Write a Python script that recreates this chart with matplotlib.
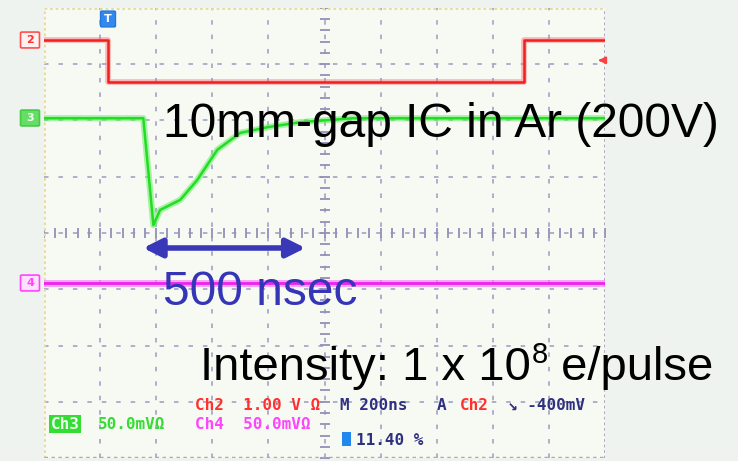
import numpy as np
import matplotlib.pyplot as plt
from matplotlib.patches import FancyBboxPatch, Rectangle

# 波形数据（单位：格，x 0..10，y -4..4）
ch2_t = [0.0, 1.14, 1.14, 8.55, 8.55, 10.0]
ch2_v = [3.43, 3.43, 2.68, 2.68, 3.43, 3.43]

ch3_t = [0.0, 1.77, 1.95, 2.07, 2.43, 2.73, 3.09, 3.50, 3.98, 4.57, 5.5, 10.0]
ch3_v = [2.04, 2.04, 0.14, 0.41, 0.59, 0.94, 1.48, 1.78, 1.88, 1.97, 2.04, 2.04]

ch4_t = [0.0, 10.0]
ch4_v = [-0.89, -0.89]

W, H = 738, 461
fig = plt.figure(figsize=(W / 100, H / 100), dpi=100)
fig.patch.set_facecolor('#eef3ef')

def fx(px):
    return px / W

def fy(py):
    return 1 - py / H

ax = fig.add_axes([fx(44), fy(458), fx(605) - fx(44), fy(8) - fy(458)])
ax.set_facecolor('#f7faf3')
ax.set_xlim(0, 10)
ax.set_ylim(-4, 4)
ax.set_xticks([])
ax.set_yticks([])
for s in ax.spines.values():
    s.set_visible(False)

grid_c = '#a9a9c9'
# 网格
for x in range(1, 10):
    ax.axvline(x, color=grid_c, lw=1.3, ls=(0, (2.5, 5.5)), zorder=1)
for y in range(-3, 4):
    ax.axhline(y, color=grid_c, lw=1.3, ls=(0, (2.5, 5.5)), zorder=1)
# 中心刻度
ticks = np.arange(0, 10.01, 0.2)
ax.plot(ticks, np.zeros_like(ticks), '|', color='#9090b8', ms=7, mew=1.3, zorder=1)
ticks_y = np.arange(-4, 4.01, 0.2)
ax.plot(np.full_like(ticks_y, 5), ticks_y, '_', color='#9090b8', ms=7, mew=1.3, zorder=1)
# 边框
ax.plot([0, 0], [-4, 4], color='#e6dca0', lw=2, ls=(0, (1, 1)), zorder=1)
ax.plot([0, 10], [4, 4], color='#e6dca0', lw=2, ls=(0, (1, 1)), zorder=1)
ax.plot([10, 10], [-4, 4], color='#a8a0b8', lw=2, ls=(0, (1, 1)), zorder=1)
ax.plot([0, 10], [-4, -4], color='#b8a8a0', lw=2.5, ls=(0, (1, 1)), zorder=1)

# 波形
ax.plot(ch2_t, ch2_v, color='#ff7070', lw=4, alpha=0.5, zorder=3)
ax.plot(ch2_t, ch2_v, color='#ee2020', lw=1.8, zorder=3)
ax.plot(ch3_t, ch3_v, color='#70ee70', lw=4.5, alpha=0.6, zorder=3)
ax.plot(ch3_t, ch3_v, color='#22dd22', lw=1.8, zorder=3)
ax.plot(ch4_t, ch4_v, color='#ff66ff', lw=5, alpha=0.6, zorder=3)
ax.plot(ch4_t, ch4_v, color='#ee22ee', lw=2, zorder=3)

# 触发电平标记
ax.annotate('', xy=(9.83, 3.07), xytext=(10.0, 3.07),
            arrowprops=dict(arrowstyle='-|>', color='#ff4040', lw=1.5))

# 通道标记
def tag(py, label, fc, ec, tc):
    fig.patches.append(FancyBboxPatch((fx(22), fy(py + 7)), fx(16), fy(py - 7) - fy(py + 7),
                                      boxstyle='round,pad=0.002', fc=fc, ec=ec, lw=1.2,
                                      transform=fig.transFigure))
    fig.text(fx(30), fy(py), label, color=tc, fontsize=8, fontweight='bold',
             ha='center', va='center')

tag(40, '2', '#fff0f0', '#ff5050', '#ff3030')
tag(118, '3', '#66dd66', '#44cc44', '#eeffee')
tag(283, '4', '#ffe0ff', '#ff44ff', '#ff44ff')

# 触发位置标记
fig.patches.append(FancyBboxPatch((fx(102), fy(26)), fx(12), fy(12) - fy(26),
                                  boxstyle='round,pad=0.002', fc='#3388ee', ec='#2277dd',
                                  transform=fig.transFigure))
fig.text(fx(108), fy(19), 'T', color='white', fontsize=8, fontweight='bold',
         ha='center', va='center')

# 注释文字
big = dict(family='Liberation Sans', va='baseline', zorder=5)
fig.text(fx(163), fy(137), '10mm-gap IC in Ar (200V)', fontsize=34.5, color='black', **big)
fig.text(fx(163), fy(305), '500 nsec', fontsize=34.5, color='#3535b8', **big)

# Intensity 文字，上标分段绘制
renderer = fig.canvas.get_renderer()
t1 = fig.text(fx(200), fy(380), 'Intensity: 1 x 10', fontsize=34, color='black', **big)
x1 = t1.get_window_extent(renderer).x1
t2 = fig.text((x1 + 1) / W, fy(363), '8', fontsize=21, color='black', **big)
x2 = t2.get_window_extent(renderer).x1
fig.text((x2 + 0) / W, fy(380), ' e/pulse', fontsize=34, color='black', **big)

ax.annotate('', xy=((143 - 44) / 56, (233 - 248) / 56.25), xytext=((305 - 44) / 56, (233 - 248) / 56.25),
            arrowprops=dict(arrowstyle='<|-|>', color='#3838b8', lw=4, mutation_scale=28,
                            shrinkA=0, shrinkB=0))

# 状态栏
mono = dict(family='DejaVu Sans Mono', fontweight='bold', fontsize=11.5)
fig.text(fx(195), fy(405), 'Ch2  1.00 V Ω', color='#ff3030', va='center', **mono)
fig.text(fx(340), fy(405), 'M 200ns', color='#303080', va='center', **mono)
fig.text(fx(437), fy(405), 'A', color='#303080', va='center', **mono)
fig.text(fx(460), fy(405), 'Ch2', color='#ff3030', va='center', **mono)
fig.text(fx(508), fy(405), '↘ -400mV', color='#303080', va='center', **mono)

fig.text(fx(51), fy(424), 'Ch3', color='#eeffee', va='center',
         bbox=dict(boxstyle='square,pad=0.1', fc='#33dd33', ec='none'), **mono)
fig.text(fx(98), fy(424), '50.0mVΩ', color='#33dd33', va='center', **mono)
fig.text(fx(195), fy(424), 'Ch4  50.0mVΩ', color='#ff44ff', va='center', **mono)

fig.patches.append(Rectangle((fx(342), fy(446)), fx(9), fy(432) - fy(446),
                             fc='#2288ee', ec='none', transform=fig.transFigure))
fig.text(fx(356), fy(440), '11.40 %', color='#303080', va='center', **mono)

fig.savefig('out.png', dpi=100, facecolor=fig.get_facecolor())
